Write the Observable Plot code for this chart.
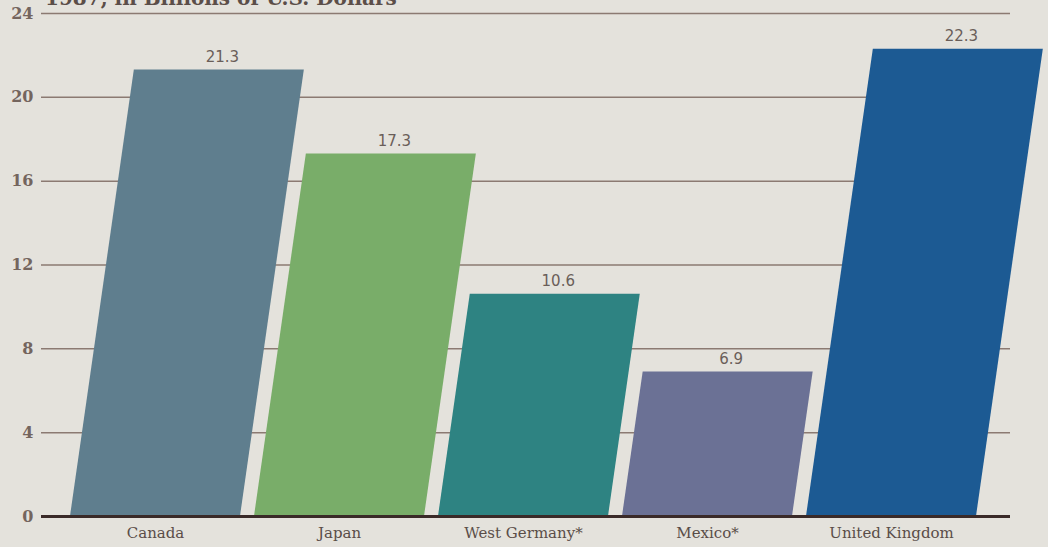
<!DOCTYPE html>
<html><head><meta charset="utf-8">
<script src="https://cdn.jsdelivr.net/npm/d3@7"></script>
<script src="https://cdn.jsdelivr.net/npm/@observablehq/plot@0.6"></script>
<style>
html,body{margin:0;padding:0;background:#e4e2dc;overflow:hidden}
#wrap{position:relative;width:1048px;height:547px;overflow:hidden}
#title{position:absolute;left:45px;top:-14px;font:bold 20px "DejaVu Serif";color:#5b4e49;white-space:nowrap;z-index:2}
</style></head><body>
<div id="wrap"><div id="chart"></div><div id="title">1987, in Billions of U.S. Dollars</div></div>
<script>
const countries = ["Canada", "Japan", "West Germany*", "Mexico*", "United Kingdom"];
const values = [21.3, 17.3, 10.6, 6.9, 22.3];
const colors = ["#5f7e8e", "#79ad69", "#2e8382", "#6b7195", "#1c5a93"];
const yTicks = [0, 4, 8, 12, 16, 20, 24];
const gridTicks = [4, 8, 12, 16, 20, 24];

const data = countries.map((c, i) => ({country: c, value: values[i]}));

const W = 1048, H = 547, mTop = 13, mBottom = 31;
const plot = Plot.plot({
  width: W, height: H,
  marginTop: mTop, marginBottom: mBottom, marginLeft: 41, marginRight: 38,
  style: {background: "transparent", fontFamily: "DejaVu Serif", color: "#6f615b"},
  x: {domain: countries, range: [69, 976], paddingInner: 0.077, paddingOuter: 0, label: null, axis: null},
  y: {domain: [0, 24], label: null, axis: null},
  color: {domain: countries, range: colors},
  marks: [
    Plot.ruleY(gridTicks, {stroke: "#8b7a72", strokeWidth: 1.5}),
    Plot.barY(data, {x: "country", y: "value", fill: "country"}),
    Plot.ruleY([0], {stroke: "#3a2a28", strokeWidth: 3}),
    Plot.text(data, {x: "country", y: "value", text: d => d.value.toFixed(1), dy: -13, dx: 3, fontSize: 15, fill: "#6a5e59", fontFamily: "DejaVu Sans"}),
    Plot.axisY(yTicks, {tickSize: 0, tickPadding: 8, fontSize: 16, fontWeight: 600, fill: "#74655e", label: null}),
    Plot.axisX({tickSize: 0, tickPadding: 11, fontSize: 15, fill: "#5a4d48", label: null, fontStretch: "condensed"})
  ]
});
document.getElementById("chart").appendChild(plot);

// perspective-like slant of the bars, anchored at the baseline
const k = 0.143;
const y0 = H - mBottom;
const ang = Math.atan(k) * 180 / Math.PI;
plot.querySelectorAll('g[aria-label="bar"]').forEach(g => {
  const t = g.getAttribute("transform") || "";
  g.setAttribute("transform", `translate(${k * y0},0) skewX(${-ang}) ${t}`);
});
plot.querySelectorAll('g[aria-label="text"] text').forEach(el => {
  const t = el.getAttribute("transform") || "";
  const m = t.match(/translate\(\s*([-\d.e]+)[ ,]+([-\d.e]+)\s*\)/);
  const y = m ? +m[2] : +(el.getAttribute("y") || 0);
  el.setAttribute("transform", `translate(${k * (y0 - y)},0) ${t}`);
});
</script>
</body></html>
